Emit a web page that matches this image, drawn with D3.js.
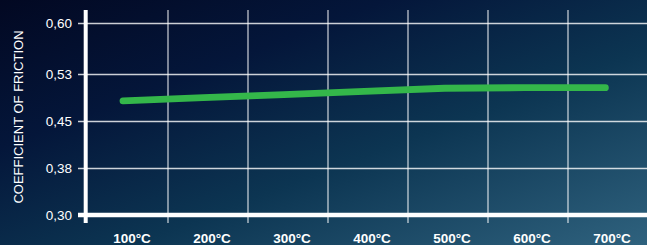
<!DOCTYPE html>
<html>
<head>
<meta charset="utf-8">
<script src="https://cdn.jsdelivr.net/npm/d3@7"></script>
<style>
  html, body { margin: 0; padding: 0; background: #061230; }
  svg { display: block; }
  text { font-family: "Liberation Sans", Arial, Helvetica, sans-serif; fill: #ffffff; }
</style>
</head>
<body>
<svg id="chart" width="647" height="245"></svg>
<script>
// ---- data ----
const categories = ["100°C", "200°C", "300°C", "400°C", "500°C", "600°C", "700°C"];
const friction = [0.482, 0.487, 0.492, 0.497, 0.502, 0.503, 0.503];
const yTickValues = [0.30, 0.375, 0.45, 0.525, 0.606];
const yTickLabels = ["0,30", "0,38", "0,45", "0,53", "0,60"];
const yTitle = "COEFFICIENT OF FRICTION";

// ---- layout ----
const W = 647, H = 245;
const svg = d3.select("#chart");

const defs = svg.append("defs");
const grad = defs.append("linearGradient").attr("id", "bg")
  .attr("x1", "0%").attr("y1", "0%").attr("x2", "100%").attr("y2", "100%");
grad.append("stop").attr("offset", "0%").attr("stop-color", "#020822");
grad.append("stop").attr("offset", "30%").attr("stop-color", "#04163a");
grad.append("stop").attr("offset", "60%").attr("stop-color", "#0c3552");
grad.append("stop").attr("offset", "100%").attr("stop-color", "#2f627e");
svg.append("rect").attr("width", W).attr("height", H).attr("fill", "url(#bg)");

const x = d3.scaleBand().domain(categories).range([88, 648]).padding(0);
const y = d3.scaleLinear().domain([0.30, 0.606]).range([215, 23]);

const gridTop = 10, gridBottom = 223;

// horizontal gridlines
svg.append("g").selectAll("line").data(yTickValues.slice(1)).join("line")
  .attr("x1", 78).attr("x2", W)
  .attr("y1", d => Math.round(y(d)) + 0.5).attr("y2", d => Math.round(y(d)) + 0.5)
  .attr("stroke", "rgba(255,255,255,0.8)").attr("stroke-width", 1.3);

// vertical gridlines at band boundaries
svg.append("g").selectAll("line").data(categories.slice(0, -1)).join("line")
  .attr("x1", d => x(d) + x.bandwidth()).attr("x2", d => x(d) + x.bandwidth())
  .attr("y1", gridTop).attr("y2", gridBottom)
  .attr("stroke", "rgba(255,255,255,0.75)").attr("stroke-width", 1.3);

// y axis line (thick)
svg.append("line").attr("x1", 85.7).attr("x2", 85.7)
  .attr("y1", gridTop).attr("y2", gridBottom)
  .attr("stroke", "#ffffff").attr("stroke-width", 4);

// x axis line (thick) at the 0.30 level
svg.append("line").attr("x1", 78).attr("x2", W)
  .attr("y1", y(0.30)).attr("y2", y(0.30))
  .attr("stroke", "#ffffff").attr("stroke-width", 4.5);

// y tick labels
svg.append("g").selectAll("text").data(yTickValues).join("text")
  .attr("x", 72).attr("y", d => y(d))
  .attr("dy", "0.35em")
  .attr("text-anchor", "end")
  .attr("font-size", 13.5)
  .text((d, i) => yTickLabels[i]);

// x tick labels
svg.append("g").selectAll("text").data(categories).join("text")
  .attr("x", d => x(d) + x.bandwidth() / 2 + 4)
  .attr("y", 242.5)
  .attr("text-anchor", "middle")
  .attr("font-size", 13.5)
  .attr("font-weight", "bold")
  .text(d => d);

// y title
svg.append("text")
  .attr("transform", "translate(23,117) rotate(-90)")
  .attr("text-anchor", "middle")
  .attr("font-size", 13)
  .text(yTitle);

// line
const line = d3.line()
  .x((d, i) => x(categories[i]) + x.bandwidth() / 2 - 5 + i * 0.4)
  .y(d => y(d));
svg.append("path").datum(friction)
  .attr("d", line)
  .attr("fill", "none")
  .attr("stroke", "#34b74a")
  .attr("stroke-width", 6.8)
  .attr("stroke-linecap", "round")
  .attr("stroke-linejoin", "round");
</script>
</body>
</html>
